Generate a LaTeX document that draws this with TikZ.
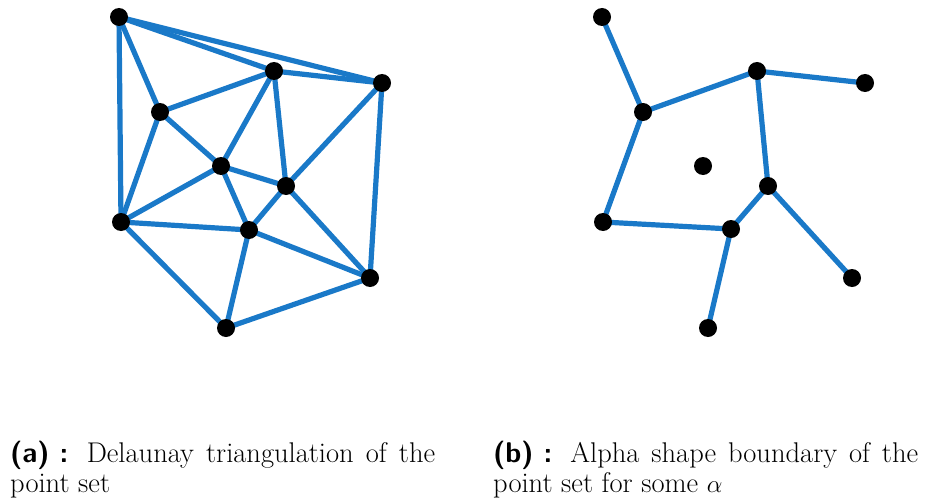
\documentclass[tikz,border=0pt]{standalone}
\definecolor{edgeblue}{RGB}{26,121,200}
\begin{document}
\begin{tikzpicture}[x=1pt,y=-1pt,
  pt/.style={circle,fill=black,inner sep=0pt,minimum size=18pt},
  edge/.style={draw=edgeblue,line width=5.2pt},
  captext/.style={anchor=base west,inner sep=0pt,font=\fontsize{28.5}{30}\selectfont}]
\useasboundingbox (0,0) rectangle (925,500);
% left: Delaunay triangulation
\coordinate (A) at (119,17);
\coordinate (B) at (274,71);
\coordinate (C) at (382,83);
\coordinate (D) at (160,112);
\coordinate (E) at (221,166);
\coordinate (F) at (286,186);
\coordinate (G) at (121,222);
\coordinate (H) at (249,230);
\coordinate (I) at (370,278);
\coordinate (J) at (226,328);
\foreach \u/\v in {A/C,A/B,A/D,A/G,D/B,D/E,D/G,B/E,B/F,B/C,C/F,C/I,E/G,E/F,E/H,F/H,F/I,G/H,G/J,H/I,H/J,J/I}
  \draw[edge] (\u) -- (\v);
\foreach \p in {A,B,C,D,E,F,G,H,I,J}
  \node[pt] (n\p) at (\p) {};
% right: alpha shape
\coordinate (a) at (602,17);
\coordinate (b) at (643,112);
\coordinate (c) at (757,71);
\coordinate (d) at (865,83);
\coordinate (e) at (703,166);
\coordinate (f) at (768,186);
\coordinate (g) at (603,222);
\coordinate (h) at (731,229);
\coordinate (i) at (852,278);
\coordinate (j) at (708,328);
\foreach \u/\v in {a/b,b/c,c/d,b/g,c/f,f/h,g/h,h/j,f/i}
  \draw[edge] (\u) -- (\v);
\foreach \p in {a,b,c,d,e,f,g,h,i,j}
  \node[pt] (m\p) at (\p) {};
% captions
\node[captext] (ca1) at (10,462) {\makebox[425pt][s]{{\sffamily\bfseries (a)\hspace{0.35em}:} Delaunay triangulation of the}};
\node[captext] (ca2) at (10,492) {point set};
\node[captext] (cb1) at (493,462) {\makebox[425pt][s]{{\sffamily\bfseries (b)\hspace{0.35em}:} Alpha shape boundary of the}};
\node[captext] (cb2) at (493,492) {point set for some $\alpha$};
\end{tikzpicture}
\end{document}
